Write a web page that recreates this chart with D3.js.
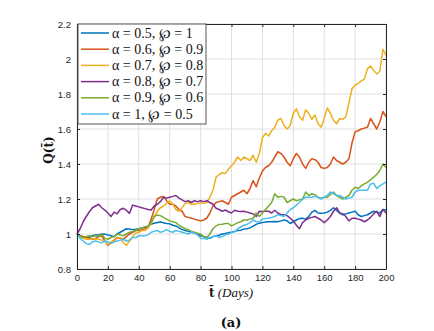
<!DOCTYPE html>
<html><head><meta charset="utf-8">
<script src="https://d3js.org/d3.v7.min.js"></script>
<style>body{margin:0;background:#fff}svg{display:block}</style>
</head><body>
<svg id="c" width="434" height="331"></svg>
<script>
const xTicks = [0,20,40,60,80,100,120,140,160,180,200];
const yTicks = [0.8,1,1.2,1.4,1.6,1.8,2,2.2];
const yTickLabels = ["0.8","1","1.2","1.4","1.6","1.8","2","2.2"];
const days = d3.range(0, 201, 2);
const legendLabels = ["α = 0.5, ℘ = 1","α = 0.6, ℘ = 0.9","α = 0.7, ℘ = 0.8","α = 0.8, ℘ = 0.7","α = 0.9, ℘ = 0.6","α = 1, ℘ = 0.5"];
const colors = ["#0072BD","#D95319","#EDB120","#7E2F8E","#77AC30","#4DBEEE"];

const s05 = [1.00,0.99,0.985,0.98,0.98, 0.99,0.995,0.995,1.00,0.998, 0.995,0.99,0.985,1.00,1.01,
 1.02,1.03,1.028,1.025,1.027, 1.03,1.035,1.04,1.045,1.056, 1.062,1.066,1.068,1.064,1.06,
 1.058,1.05,1.046,1.035,1.025, 1.02,1.015,1.01,1.005,0.998, 0.99,0.985,0.98,0.975,0.985,
 0.99,0.993,1.0,1.003,1.008, 1.01,1.015,1.02,1.022,1.028, 1.03,1.035,1.045,1.055,1.062,
 1.065,1.068,1.07,1.07,1.072, 1.07,1.075,1.08,1.075,1.06, 1.07,1.08,1.088,1.09,1.085,
 1.1,1.125,1.135,1.12,1.118, 1.12,1.125,1.135,1.15,1.135, 1.12,1.11,1.115,1.12,1.125,
 1.13,1.11,1.10,1.105,1.11, 1.12,1.13,1.125,1.12,1.14, 1.137];
const s06 = [1.00,0.99,0.985,0.98,0.975, 0.97,0.975,0.985,0.99,0.96, 0.935,0.95,0.965,0.98,0.975,
 0.97,0.985,1.0,1.01,1.02, 1.02,1.025,1.03,1.04,1.085, 1.14,1.20,1.21,1.215,1.19,
 1.17,1.17,1.16,1.14,1.13, 1.10,1.095,1.09,1.085,1.08, 1.075,1.08,1.09,1.12,1.16,
 1.18,1.185,1.19,1.18,1.17, 1.21,1.22,1.23,1.24,1.25, 1.23,1.26,1.305,1.27,1.32,
 1.36,1.38,1.39,1.41,1.44, 1.47,1.46,1.44,1.41,1.39, 1.43,1.46,1.44,1.40,1.375,
 1.41,1.43,1.425,1.41,1.38, 1.375,1.38,1.40,1.44,1.42, 1.41,1.40,1.41,1.43,1.52,
 1.585,1.59,1.60,1.605,1.61, 1.66,1.63,1.60,1.64,1.70, 1.67];
const s07 = [1.00,0.985,0.975,0.97,0.97, 0.975,0.97,0.97,0.965,0.96, 0.94,0.955,0.96,0.975,0.98,
 0.95,0.935,0.96,0.985,1.005, 1.01,1.02,1.02,1.035,1.06, 1.10,1.13,1.15,1.16,1.175,
 1.19,1.17,1.14,1.13,1.15, 1.175,1.18,1.17,1.17,1.175, 1.178,1.175,1.18,1.21,1.25,
 1.325,1.34,1.35,1.345,1.37, 1.39,1.41,1.44,1.42,1.44, 1.43,1.42,1.45,1.41,1.46,
 1.55,1.575,1.56,1.59,1.61, 1.65,1.66,1.62,1.60,1.62, 1.69,1.715,1.67,1.65,1.71,
 1.69,1.655,1.68,1.63,1.61, 1.66,1.72,1.69,1.65,1.63, 1.66,1.655,1.67,1.75,1.83,
 1.85,1.86,1.875,1.885,1.945, 1.96,1.935,1.915,1.93,2.055, 2.02];
const s08 = [1.00,1.03,1.07,1.10,1.127, 1.15,1.16,1.17,1.15,1.137, 1.12,1.10,1.125,1.115,1.14,
 1.147,1.135,1.118,1.165,1.16, 1.155,1.15,1.145,1.14,1.137, 1.16,1.17,1.185,1.21,1.205,
 1.21,1.215,1.22,1.205,1.195, 1.185,1.19,1.18,1.19,1.185, 1.19,1.185,1.19,1.18,1.17,
 1.147,1.14,1.13,1.137,1.127, 1.12,1.136,1.13,1.128,1.13, 1.125,1.12,1.115,1.10,1.13,
 1.128,1.13,1.13,1.12,1.136, 1.12,1.11,1.11,1.105,1.09, 1.075,1.05,1.03,1.065,1.08,
 1.09,1.095,1.10,1.09,1.08, 1.065,1.08,1.10,1.13,1.15, 1.12,1.115,1.10,1.075,1.09,
 1.09,1.085,1.08,1.07,1.08, 1.095,1.115,1.13,1.10,1.14, 1.12];
const s09 = [1.00,0.985,0.98,0.985,0.99, 0.985,0.99,0.985,1.00,0.975, 0.97,0.98,0.985,1.0,0.995,
 0.99,1.0,1.01,1.015,1.02, 1.03,1.035,1.04,1.045,1.065, 1.10,1.108,1.105,1.095,1.085,
 1.075,1.07,1.065,1.05,1.04, 1.03,1.025,1.015,1.01,1.005, 1.00,0.985,0.98,1.00,1.03,
 1.046,1.055,1.056,1.06,1.06, 1.046,1.055,1.065,1.07,1.08, 1.08,1.085,1.09,1.12,1.10,
 1.12,1.14,1.16,1.18,1.23, 1.21,1.215,1.21,1.18,1.19, 1.20,1.19,1.195,1.20,1.24,
 1.22,1.23,1.225,1.21,1.205, 1.21,1.21,1.225,1.24,1.22, 1.21,1.20,1.21,1.22,1.25,
 1.267,1.26,1.275,1.286,1.295, 1.31,1.325,1.34,1.363,1.40, 1.38];
const s10 = [1.00,0.975,0.96,0.945,0.94, 0.955,0.96,0.955,0.95,0.96, 0.955,0.945,0.955,0.96,0.965,
 0.97,0.96,0.965,0.98,0.98, 0.99,0.99,0.99,0.995,1.01, 1.015,1.02,1.01,1.015,1.025,
 1.015,1.01,1.02,1.015,1.01, 1.005,1.0,1.01,1.005,0.995, 0.975,0.975,0.97,0.98,0.985,
 0.99,0.98,0.985,0.995,1.0, 1.008,1.012,1.03,1.04,1.05, 1.055,1.065,1.08,1.07,1.068,
 1.085,1.088,1.09,1.095,1.10, 1.11,1.105,1.10,1.12,1.14, 1.15,1.165,1.18,1.20,1.21,
 1.21,1.21,1.215,1.21,1.20, 1.21,1.22,1.24,1.23,1.22, 1.22,1.21,1.20,1.205,1.21,
 1.24,1.25,1.25,1.25,1.25, 1.286,1.29,1.26,1.275,1.286, 1.296];
const series = [s05,s06,s07,s08,s09,s10];

const svg = d3.select("#c");
const L=77, T=24, W=309, H=245;
const x = d3.scaleLinear().domain([0,200]).range([L,L+W]);
const y = d3.scaleLinear().domain([0.8,2.2]).range([T+H,T]);
const axisCol = "#262626";

// grid
svg.append("g").selectAll("line").data(xTicks).join("line")
  .attr("x1",d=>x(d)).attr("x2",d=>x(d)).attr("y1",T).attr("y2",T+H)
  .attr("stroke","#dfdfdf").attr("stroke-width",1);
svg.append("g").selectAll("line").data(yTicks).join("line")
  .attr("y1",d=>y(d)).attr("y2",d=>y(d)).attr("x1",L).attr("x2",L+W)
  .attr("stroke","#dfdfdf").attr("stroke-width",1);

// series
const line = d3.line().x((d,i)=>x(days[i])).y(d=>y(d));
series.forEach((s,k)=>{
  svg.append("path").datum(s).attr("d",line).attr("fill","none")
    .attr("stroke",colors[k]).attr("stroke-width",1.5).attr("stroke-linejoin","round");
});

// axes
const fnt = "Liberation Sans, Arial, sans-serif";
const xb = svg.append("g").attr("transform",`translate(0,${T+H})`)
  .call(d3.axisBottom(x).tickValues(xTicks).tickSizeInner(-3).tickSizeOuter(0).tickPadding(5));
const xt = svg.append("g").attr("transform",`translate(0,${T})`)
  .call(d3.axisTop(x).tickValues(xTicks).tickSizeInner(-3).tickSizeOuter(0).tickFormat(""));
const yl = svg.append("g").attr("transform",`translate(${L},0)`)
  .call(d3.axisLeft(y).tickValues(yTicks).tickSizeInner(-3).tickSizeOuter(0).tickPadding(6)
  .tickFormat((d,i)=>yTickLabels[i]));
const yr = svg.append("g").attr("transform",`translate(${L+W},0)`)
  .call(d3.axisRight(y).tickValues(yTicks).tickSizeInner(-3).tickSizeOuter(0).tickFormat(""));
[xb,xt,yl,yr].forEach(g=>{
  g.selectAll("path,line").attr("stroke",axisCol).attr("stroke-width",1);
  g.selectAll("text").attr("fill",axisCol).attr("font-family",fnt).attr("font-size",9.5);
});

// legend
const lg = svg.append("g");
lg.append("rect").attr("x",78).attr("y",24).attr("width",128).attr("height",100)
  .attr("fill","#fff").attr("stroke","#555").attr("stroke-width",1);
legendLabels.forEach((t,i)=>{
  const yy = 33 + i*16.2;
  lg.append("line").attr("x1",81).attr("x2",109).attr("y1",yy).attr("y2",yy)
    .attr("stroke",colors[i]).attr("stroke-width",1.5);
  lg.append("text").attr("x",112).attr("y",yy+4.5).text(t)
    .attr("font-family","Liberation Serif, DejaVu Serif, serif").attr("font-size",14)
    .attr("fill","#111");
});

// axis labels
const xl = svg.append("text").attr("x",231).attr("y",297).attr("text-anchor","middle")
  .attr("font-family","DejaVu Serif, serif").attr("font-size",12).attr("fill","#111");
xl.append("tspan").attr("font-weight","bold").text("t\u0304");
xl.append("tspan").attr("font-style","italic").attr("font-family","Liberation Serif, serif").attr("font-size",13).text(" (Days)");
svg.append("text").attr("transform","translate(53,150) rotate(-90)").attr("text-anchor","middle")
  .attr("font-family","DejaVu Serif, serif").attr("font-weight","bold").attr("font-size",12)
  .attr("fill","#111").text("Q(t\u0304)");
svg.append("text").attr("x",231).attr("y",327).attr("text-anchor","middle")
  .attr("font-family","DejaVu Serif, serif").attr("font-weight","bold").attr("font-size",13)
  .attr("fill","#111").text("(a)");
</script>
</body></html>
